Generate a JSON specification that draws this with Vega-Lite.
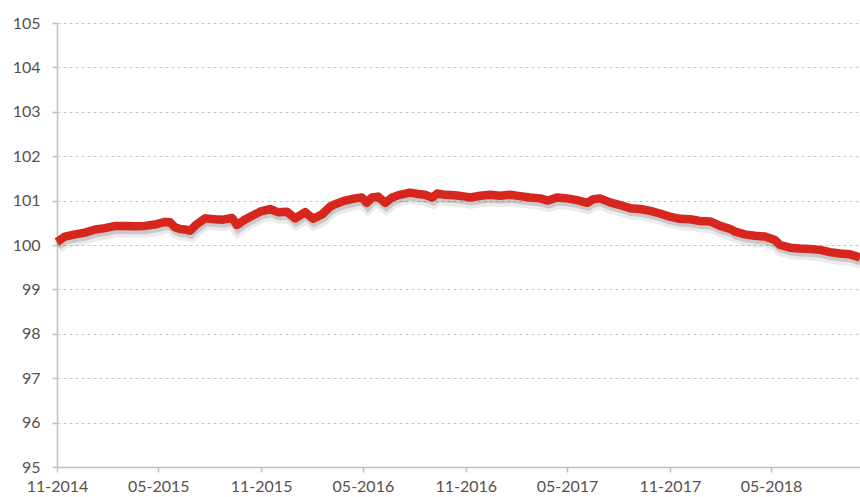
{
  "$schema": "https://vega.github.io/schema/vega-lite/v6.json",
  "width": 803,
  "height": 444,
  "autosize": {"type": "none"},
  "padding": {"left": 57, "top": 23, "right": 0, "bottom": 30},
  "background": "white",
  "config": {
    "view": {"stroke": null},
    "axis": {"labelFont": "Lato", "labelFontSize": 16, "labelColor": "#5a4f4b", "domainColor": "#bfbfbf", "tickColor": "#bfbfbf", "tickSize": 5, "domainWidth": 1.5, "tickWidth": 1.5}
  },
  "data": {
    "values": [
      {"date": "2014-11-01", "value": 100.07},
      {"date": "2014-11-15", "value": 100.19},
      {"date": "2014-12-03", "value": 100.24},
      {"date": "2014-12-21", "value": 100.28},
      {"date": "2015-01-08", "value": 100.35},
      {"date": "2015-01-26", "value": 100.38},
      {"date": "2015-02-13", "value": 100.43},
      {"date": "2015-03-03", "value": 100.43},
      {"date": "2015-03-20", "value": 100.42},
      {"date": "2015-04-07", "value": 100.43},
      {"date": "2015-04-25", "value": 100.46},
      {"date": "2015-05-13", "value": 100.52},
      {"date": "2015-05-22", "value": 100.51},
      {"date": "2015-05-31", "value": 100.40},
      {"date": "2015-06-09", "value": 100.36},
      {"date": "2015-06-18", "value": 100.35},
      {"date": "2015-06-27", "value": 100.32},
      {"date": "2015-07-09", "value": 100.47},
      {"date": "2015-07-24", "value": 100.60},
      {"date": "2015-08-11", "value": 100.58},
      {"date": "2015-08-25", "value": 100.57},
      {"date": "2015-09-10", "value": 100.61},
      {"date": "2015-09-19", "value": 100.45},
      {"date": "2015-09-30", "value": 100.55},
      {"date": "2015-10-16", "value": 100.66},
      {"date": "2015-10-30", "value": 100.75},
      {"date": "2015-11-17", "value": 100.81},
      {"date": "2015-12-01", "value": 100.74},
      {"date": "2015-12-17", "value": 100.75},
      {"date": "2016-01-01", "value": 100.60},
      {"date": "2016-01-19", "value": 100.74},
      {"date": "2016-02-02", "value": 100.59},
      {"date": "2016-02-18", "value": 100.69},
      {"date": "2016-03-03", "value": 100.86},
      {"date": "2016-03-12", "value": 100.92},
      {"date": "2016-03-30", "value": 101.00},
      {"date": "2016-04-17", "value": 101.05},
      {"date": "2016-04-29", "value": 101.07},
      {"date": "2016-05-08", "value": 100.95},
      {"date": "2016-05-17", "value": 101.07},
      {"date": "2016-05-28", "value": 101.09},
      {"date": "2016-06-10", "value": 100.95},
      {"date": "2016-06-22", "value": 101.07},
      {"date": "2016-07-06", "value": 101.13},
      {"date": "2016-07-24", "value": 101.18},
      {"date": "2016-08-08", "value": 101.15},
      {"date": "2016-08-20", "value": 101.13},
      {"date": "2016-09-02", "value": 101.07},
      {"date": "2016-09-11", "value": 101.16},
      {"date": "2016-09-25", "value": 101.13},
      {"date": "2016-10-13", "value": 101.12},
      {"date": "2016-10-31", "value": 101.09},
      {"date": "2016-11-09", "value": 101.07},
      {"date": "2016-11-27", "value": 101.11},
      {"date": "2016-12-14", "value": 101.13},
      {"date": "2017-01-01", "value": 101.11},
      {"date": "2017-01-19", "value": 101.13},
      {"date": "2017-02-06", "value": 101.10},
      {"date": "2017-02-24", "value": 101.07},
      {"date": "2017-03-14", "value": 101.05},
      {"date": "2017-03-28", "value": 101.00},
      {"date": "2017-04-13", "value": 101.07},
      {"date": "2017-05-01", "value": 101.05},
      {"date": "2017-05-19", "value": 101.01},
      {"date": "2017-06-06", "value": 100.95},
      {"date": "2017-06-17", "value": 101.03},
      {"date": "2017-06-29", "value": 101.05},
      {"date": "2017-07-17", "value": 100.96},
      {"date": "2017-08-04", "value": 100.90},
      {"date": "2017-08-22", "value": 100.83},
      {"date": "2017-09-09", "value": 100.81},
      {"date": "2017-09-27", "value": 100.77},
      {"date": "2017-10-14", "value": 100.71},
      {"date": "2017-11-01", "value": 100.64},
      {"date": "2017-11-19", "value": 100.59},
      {"date": "2017-12-07", "value": 100.58},
      {"date": "2017-12-25", "value": 100.54},
      {"date": "2018-01-12", "value": 100.53},
      {"date": "2018-01-30", "value": 100.43},
      {"date": "2018-02-17", "value": 100.36},
      {"date": "2018-02-26", "value": 100.30},
      {"date": "2018-03-15", "value": 100.24},
      {"date": "2018-04-02", "value": 100.21},
      {"date": "2018-04-20", "value": 100.19},
      {"date": "2018-05-08", "value": 100.11},
      {"date": "2018-05-17", "value": 100.00},
      {"date": "2018-06-04", "value": 99.94},
      {"date": "2018-06-22", "value": 99.92},
      {"date": "2018-07-10", "value": 99.91},
      {"date": "2018-07-28", "value": 99.89},
      {"date": "2018-08-14", "value": 99.84},
      {"date": "2018-09-01", "value": 99.81},
      {"date": "2018-09-19", "value": 99.79},
      {"date": "2018-10-07", "value": 99.72}
    ]
  },
  "encoding": {
    "x": {
      "field": "date", "type": "temporal",
      "scale": {"domain": [{"year": 2014, "month": 11, "date": 1}, {"year": 2018, "month": 10, "date": 7}]},
      "axis": {
        "title": null, "grid": false, "format": "%m-%Y", "labelPadding": 6, "labelFlush": false, "labelOverlap": false,
        "values": [
          {"year": 2014, "month": 11, "date": 1},
          {"year": 2015, "month": 5, "date": 1},
          {"year": 2015, "month": 11, "date": 1},
          {"year": 2016, "month": 5, "date": 1},
          {"year": 2016, "month": 11, "date": 1},
          {"year": 2017, "month": 5, "date": 1},
          {"year": 2017, "month": 11, "date": 1},
          {"year": 2018, "month": 5, "date": 1}
        ]
      }
    },
    "y": {
      "field": "value", "type": "quantitative",
      "scale": {"domain": [95, 105], "nice": false, "zero": false},
      "axis": {
        "title": null, "values": [95, 96, 97, 98, 99, 100, 101, 102, 103, 104, 105],
        "grid": true, "gridColor": "#c8c8c8", "gridDash": [3, 3], "gridWidth": 1,
        "labelPadding": 12
      }
    }
  },
  "layer": [
    {"mark": {"type": "line", "stroke": "#000000", "strokeOpacity": 0.08, "strokeWidth": 13, "yOffset": 5, "xOffset": 1, "strokeCap": "butt"}},
    {"mark": {"type": "line", "stroke": "#000000", "strokeOpacity": 0.14, "strokeWidth": 8, "yOffset": 4, "xOffset": 1, "strokeCap": "butt"}},
    {"mark": {"type": "line", "stroke": "#d6261d", "strokeWidth": 8.5, "strokeJoin": "round", "strokeCap": "butt"}}
  ]
}
